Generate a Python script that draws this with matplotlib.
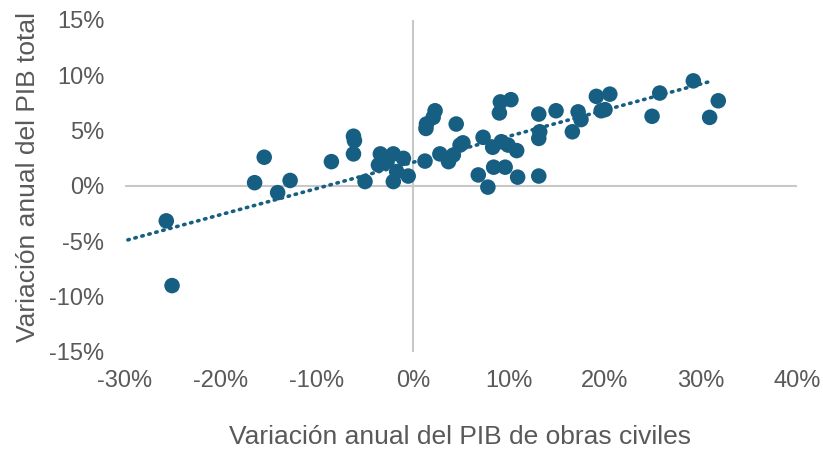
import matplotlib
matplotlib.use("Agg")
import matplotlib.pyplot as plt
import numpy as np

plt.rcParams['font.family'] = ['Liberation Sans', 'DejaVu Sans']

# Annual variation (%) of civil works GDP (x) and total GDP (y)
obras_civiles = [
    -25.7, -25.1, -16.5, -15.5, -14.1, -12.8, -8.5,
    -6.2, -6.1, -6.2, -5.0,
    -3.4, -2.05, -1.0, -3.6, -2.7, -1.7, -2.05, -0.5,
    1.25, 1.4, 1.35, 2.3, 2.1, 2.8, 3.7, 4.2, 4.9, 5.2, 4.5,
    7.3, 6.8, 7.8, 8.3, 9.2, 9.9, 10.8, 8.4, 9.6, 10.9, 13.1,
    9.0, 9.1, 10.2, 13.1, 13.2, 13.1,
    14.9, 16.6, 17.2, 17.5, 19.1, 20.5, 19.6, 20.0,
    24.9, 25.7, 29.2, 30.9, 31.8,
]
pib_total = [
    -3.15, -9.0, 0.3, 2.6, -0.6, 0.5, 2.2,
    4.5, 4.1, 2.9, 0.4,
    2.9, 2.9, 2.5, 1.9, 2.2, 1.3, 0.4, 0.9,
    2.25, 5.6, 5.2, 6.8, 6.2, 2.9, 2.2, 2.8, 3.7, 3.9, 5.6,
    4.4, 1.0, -0.1, 3.5, 4.0, 3.7, 3.2, 1.7, 1.7, 0.8, 0.9,
    6.6, 7.6, 7.8, 6.5, 4.9, 4.3,
    6.8, 4.9, 6.7, 6.0, 8.1, 8.3, 6.8, 6.9,
    6.3, 8.4, 9.5, 6.2, 7.7,
]

# Linear trendline as shown in the chart (slope, intercept) and its x-extent
trend_slope = 0.236
trend_intercept = 2.14
trend_x = [-29.7, 31.1]

x_ticks = [-30, -20, -10, 0, 10, 20, 30, 40]
y_ticks = [-15, -10, -5, 0, 5, 10, 15]

color = '#175F82'
grey_txt = '#595959'

fig = plt.figure(figsize=(8.23, 4.49), dpi=100)
ax = fig.add_axes([125/823, 1-352/449, (797-125)/823, (352-20)/449])

x = np.array(obras_civiles)
y = np.array(pib_total)

ax.axhline(0, color='#C8C8C8', lw=1.5, zorder=1)
ax.axvline(0, color='#C8C8C8', lw=1.5, zorder=1)

ax.scatter(x, y, s=125, color=color, edgecolors='none', zorder=3)

xt = np.array(trend_x)
ax.plot(xt, trend_slope*xt + trend_intercept, color=color, lw=2.6,
        linestyle=(0, (0.4, 1.6)), dash_capstyle='round', zorder=2)

ax.set_xlim(-30, 40)
ax.set_ylim(-15, 15)
ax.set_xticks(x_ticks)
ax.set_yticks(y_ticks)
ax.set_xticklabels([f'{t}%' for t in x_ticks])
ax.set_yticklabels([f'{t}%' for t in y_ticks])
ax.tick_params(length=0, labelsize=17, colors=grey_txt)
ax.tick_params(axis='y', pad=15)
ax.tick_params(axis='x', pad=13)
for s in ax.spines.values():
    s.set_visible(False)

fig.text(28/823, 1-177/449, 'Variación anual del PIB total', rotation=90,
         ha='center', va='center', fontsize=19, color=grey_txt)
fig.text(460/823, 1-437/449, 'Variación anual del PIB de obras civiles',
         ha='center', va='center', fontsize=19, color=grey_txt)

fig.savefig('out.png', dpi=100)
